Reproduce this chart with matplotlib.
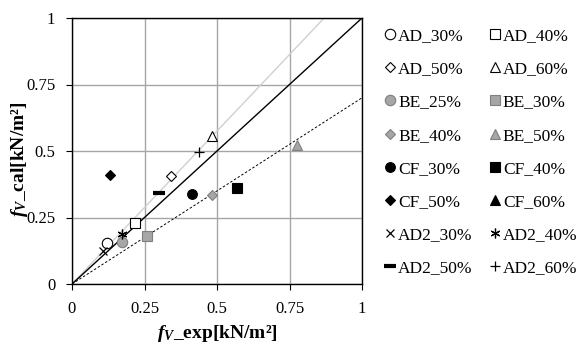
import matplotlib
matplotlib.use("Agg")
import matplotlib.pyplot as plt
import numpy as np

plt.rcParams['font.family'] = ['Liberation Serif', 'DejaVu Serif']
plt.rcParams['mathtext.fontset'] = 'custom'
plt.rcParams['mathtext.rm'] = 'Liberation Serif:bold'
plt.rcParams['mathtext.it'] = 'Liberation Serif:italic:bold'
plt.rcParams['mathtext.bf'] = 'Liberation Serif:bold'

# series labels and measured / calculated values
labels = ['AD_30%', 'AD_40%', 'AD_50%', 'AD_60%',
          'BE_25%', 'BE_30%', 'BE_40%', 'BE_50%',
          'CF_30%', 'CF_40%', 'CF_50%', 'CF_60%',
          'AD2_30%', 'AD2_40%', 'AD2_50%', 'AD2_60%']
f_exp = [[0.12], [0.217], [0.34], [0.483],
         [0.173], [0.259], [0.482], [0.777],
         [0.414], [0.568], [0.131], [],
         [0.106], [0.171], [0.300], [0.437]]
f_cal = [[0.153], [0.23], [0.407], [0.558],
         [0.159], [0.18], [0.336], [0.522],
         [0.34], [0.36], [0.41], [],
         [0.124], [0.188], [0.342], [0.496]]

# reference lines: y = slope * x
line_slopes = [1.15, 1.0, 0.7]
line_x = [0, 1]

# marker styles (marker, face, edge, size)
GRAY_F = '#a6a6a6'
GRAY_E = '#7f7f7f'
styles = [
    ('o', 'white', 'black', 7.5), ('s', 'white', 'black', 7.5),
    ('D', 'white', 'black', 5.5), ('^', 'white', 'black', 7.5),
    ('o', GRAY_F, GRAY_E, 7.5), ('s', GRAY_F, GRAY_E, 7.5),
    ('D', GRAY_F, GRAY_E, 5.5), ('^', GRAY_F, GRAY_E, 7.5),
    ('o', 'black', 'black', 7), ('s', 'black', 'black', 7),
    ('D', 'black', 'black', 5), ('^', 'black', 'black', 7),
    ('x', 'black', 'black', 6), ((6, 2, 0), 'black', 'black', 7),
    ('_', 'black', 'black', 8), ('+', 'black', 'black', 7),
]

fig = plt.figure(figsize=(5.79, 3.45), dpi=100)
ax = fig.add_axes([72 / 579, 1 - 284 / 345, 290 / 579, 266 / 345])

# reference lines
ax.plot(line_x, [line_slopes[0] * v for v in line_x], color='#d0d0d0', lw=1.0, zorder=2)
ax.plot(line_x, [line_slopes[1] * v for v in line_x], color='black', lw=1.0, zorder=2)
ax.plot(line_x, [line_slopes[2] * v for v in line_x], color='black', lw=0.7,
        ls=(0, (2.5, 2)), zorder=2)

handles = []
for lab, xs, ys, (mk, fc, ec, ms) in zip(labels, f_exp, f_cal, styles):
    mew = 0.8
    if mk == '_':
        mew = 3
    elif mk in ('x', '+') or isinstance(mk, tuple):
        mew = 0.9
    h, = ax.plot(xs, ys, ls='none', marker=mk, markerfacecolor=fc,
                 markeredgecolor=ec, markersize=ms, markeredgewidth=mew,
                 label=lab, zorder=3)
    handles.append(h)

ax.set_xlim(0, 1)
ax.set_ylim(0, 1)
ticks = [0, 0.25, 0.5, 0.75, 1]
tick_labels = ['0', '0.25', '0.5', '0.75', '1']
ax.set_xticks(ticks)
ax.set_xticklabels(tick_labels)
ax.set_yticks(ticks)
ax.set_yticklabels(tick_labels)
ax.tick_params(direction='out', length=4, width=0.8, labelsize=12, pad=8)
ax.grid(True, color='#a6a6a6', lw=1.0, zorder=1)
ax.set_axisbelow(True)
for sp in ax.spines.values():
    sp.set_color('black')
    sp.set_linewidth(1.0)

ax.set_xlabel(r'$f_V$' + '_exp[kN/m²]', fontsize=14, fontweight='bold', va='top')
ax.set_ylabel(r'$f_V$' + '_cal[kN/m²]', fontsize=14, fontweight='bold', va='center')
ax.xaxis.set_label_coords(0.5, -0.148)
ax.yaxis.set_label_coords(-0.18, 0.47)

# legend order: row-wise pairs -> matplotlib fills column-wise
order = list(range(0, 16, 2)) + list(range(1, 16, 2))
fig.legend([handles[i] for i in order], [labels[i] for i in order],
           loc='upper left', bbox_to_anchor=(385 / 579, 1 - 28 / 345),
           ncol=2, frameon=False, fontsize=12.5, handlelength=0.6,
           handletextpad=0.15, columnspacing=1.0, labelspacing=0.98,
           borderaxespad=0, borderpad=0)

fig.savefig('out.png', dpi=100)
